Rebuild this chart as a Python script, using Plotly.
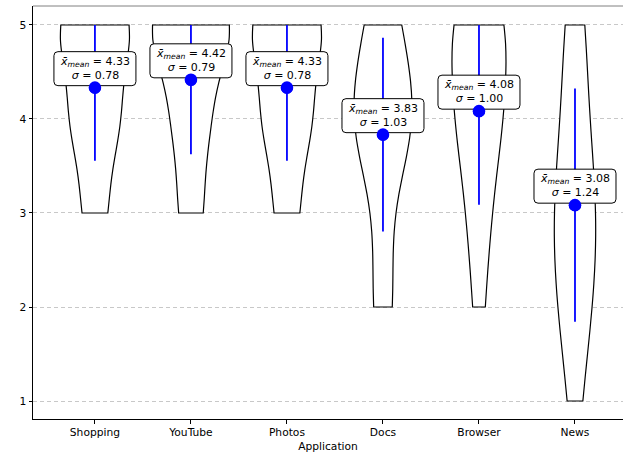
import numpy as np
import plotly.graph_objects as go

# ---- data ----
categories = ["Shopping", "YouTube", "Photos", "Docs", "Browser", "News"]
shopping = [3, 3, 4, 4, 4, 4, 5, 5, 5, 5, 5, 5]
youtube = [3, 3, 4, 4, 4, 5, 5, 5, 5, 5, 5, 5]
photos = [3, 3, 4, 4, 4, 4, 5, 5, 5, 5, 5, 5]
docs = [2, 2, 3, 4, 4, 4, 4, 4, 4, 5, 5, 5]
browser = [2, 3, 3, 4, 4, 4, 4, 5, 5, 5, 5, 5]
news = [1, 2, 2, 2, 3, 3, 3, 3, 4, 4, 5, 5]
ratings = [shopping, youtube, photos, docs, browser, news]
y_ticks = [1, 2, 3, 4, 5]
scale_min, scale_max = 1, 5

FONT = "DejaVu Sans"
FS = 10.7
FS_ANN = 11
MAX_WIDTH = 0.8

fig = go.Figure()


def kde_max(v, bw):
    grid = np.linspace(v.min(), v.max(), 400)
    d = np.exp(-0.5 * ((grid[:, None] - v[None, :]) / bw) ** 2).sum(axis=1)
    d /= len(v) * bw * np.sqrt(2 * np.pi)
    return d.max()


means, sds, bws, peaks = [], [], [], []
for vals in ratings:
    v = np.asarray(vals, dtype=float)
    sd = v.std(ddof=1)
    bw = sd * len(v) ** (-1 / 5)  # Scott's rule
    means.append(v.mean())
    sds.append(sd)
    bws.append(bw)
    peaks.append(kde_max(v, bw))
top_peak = max(peaks)

for cat, vals, bw, pk in zip(categories, ratings, bws, peaks):
    fig.add_trace(go.Violin(
        x=[cat] * len(vals), y=vals, name=cat,
        bandwidth=bw, spanmode="hard", side="both",
        scalemode="width", width=MAX_WIDTH * pk / top_peak,
        points=False, fillcolor="white", opacity=1,
        line=dict(color="black", width=1.2),
        box_visible=False, meanline_visible=False,
        hoverinfo="skip", showlegend=False,
    ))

# mean +/- sd lines
lx, ly = [], []
for cat, m, s in zip(categories, means, sds):
    lx += [cat, cat, None]
    ly += [max(scale_min, m - s), min(scale_max, m + s), None]
fig.add_trace(go.Scatter(x=lx, y=ly, mode="lines",
                         line=dict(color="blue", width=1.8),
                         hoverinfo="skip", showlegend=False))
fig.add_trace(go.Scatter(x=categories, y=means, mode="markers",
                         marker=dict(color="blue", size=12, line=dict(width=0)),
                         hoverinfo="skip", showlegend=False))

# rounded label boxes
hw, y0b, y1b, r = 41, 2, 36, 4
box_path = (f"M {-hw + r},{y0b} L {hw - r},{y0b} Q {hw},{y0b} {hw},{y0b + r} "
            f"L {hw},{y1b - r} Q {hw},{y1b} {hw - r},{y1b} L {-hw + r},{y1b} "
            f"Q {-hw},{y1b} {-hw},{y1b - r} L {-hw},{y0b + r} Q {-hw},{y0b} {-hw + r},{y0b} Z")
for cat, m in zip(categories, means):
    fig.add_shape(type="path", xref="x", yref="y",
                  xsizemode="pixel", ysizemode="pixel",
                  xanchor=cat, yanchor=m, path=box_path,
                  fillcolor="white", line=dict(color="black", width=1),
                  layer="above")
for cat, m in zip(categories, means):
    fig.add_shape(type="circle", xref="x", yref="y",
                  xsizemode="pixel", ysizemode="pixel",
                  xanchor=cat, yanchor=m, x0=-6.3, x1=6.3, y0=-6.3, y1=6.3,
                  fillcolor="blue", line=dict(width=0), layer="above")
for cat, m, s in zip(categories, means, sds):
    fig.add_annotation(x=cat, y=m, xref="x", yref="y",
                       text=f"<i>x̄</i><sub><i>mean</i></sub> = {m:.2f}<br><i>σ</i> = {s:.2f}",
                       showarrow=False, yanchor="middle", xanchor="center",
                       yshift=19.5, align="center",
                       font=dict(family=FONT, size=FS_ANN, color="black"))

# top spine (thin grey)
fig.add_shape(type="line", xref="paper", yref="paper", x0=0, x1=1, y0=1, y1=1,
              line=dict(color="#808080", width=1), layer="above")

fig.update_layout(
    width=623, height=456,
    margin=dict(l=33, r=0, t=6, b=37, autoexpand=False),
    paper_bgcolor="white", plot_bgcolor="white",
    violinmode="overlay",
    font=dict(family=FONT, size=FS, color="black"),
    showlegend=False,
)
fig.update_xaxes(
    type="category", categoryorder="array", categoryarray=categories,
    range=[-0.645, 5.5], showgrid=False, zeroline=False,
    showline=True, linecolor="black", linewidth=1,
    ticks="outside", ticklen=3.5, tickwidth=1, tickcolor="black",
    tickfont=dict(family=FONT, size=FS, color="black"),
    title=dict(text="Application", standoff=4,
               font=dict(family=FONT, size=FS, color="black")),
    automargin=False,
)
fig.update_yaxes(
    range=[0.8085, 5.202], tickmode="array", tickvals=y_ticks,
    ticktext=[str(t) for t in y_ticks],
    showgrid=True, gridcolor="#c8c8c8", gridwidth=1, griddash="4px,3px",
    zeroline=False, showline=True, linecolor="black", linewidth=1,
    ticks="outside", ticklen=3.5, tickwidth=1, tickcolor="black",
    tickfont=dict(family=FONT, size=FS, color="black"),
    automargin=False,
)

fig.write_html("out.html", config={"displayModeBar": False},
               post_script="document.body.style.margin='0px';")
